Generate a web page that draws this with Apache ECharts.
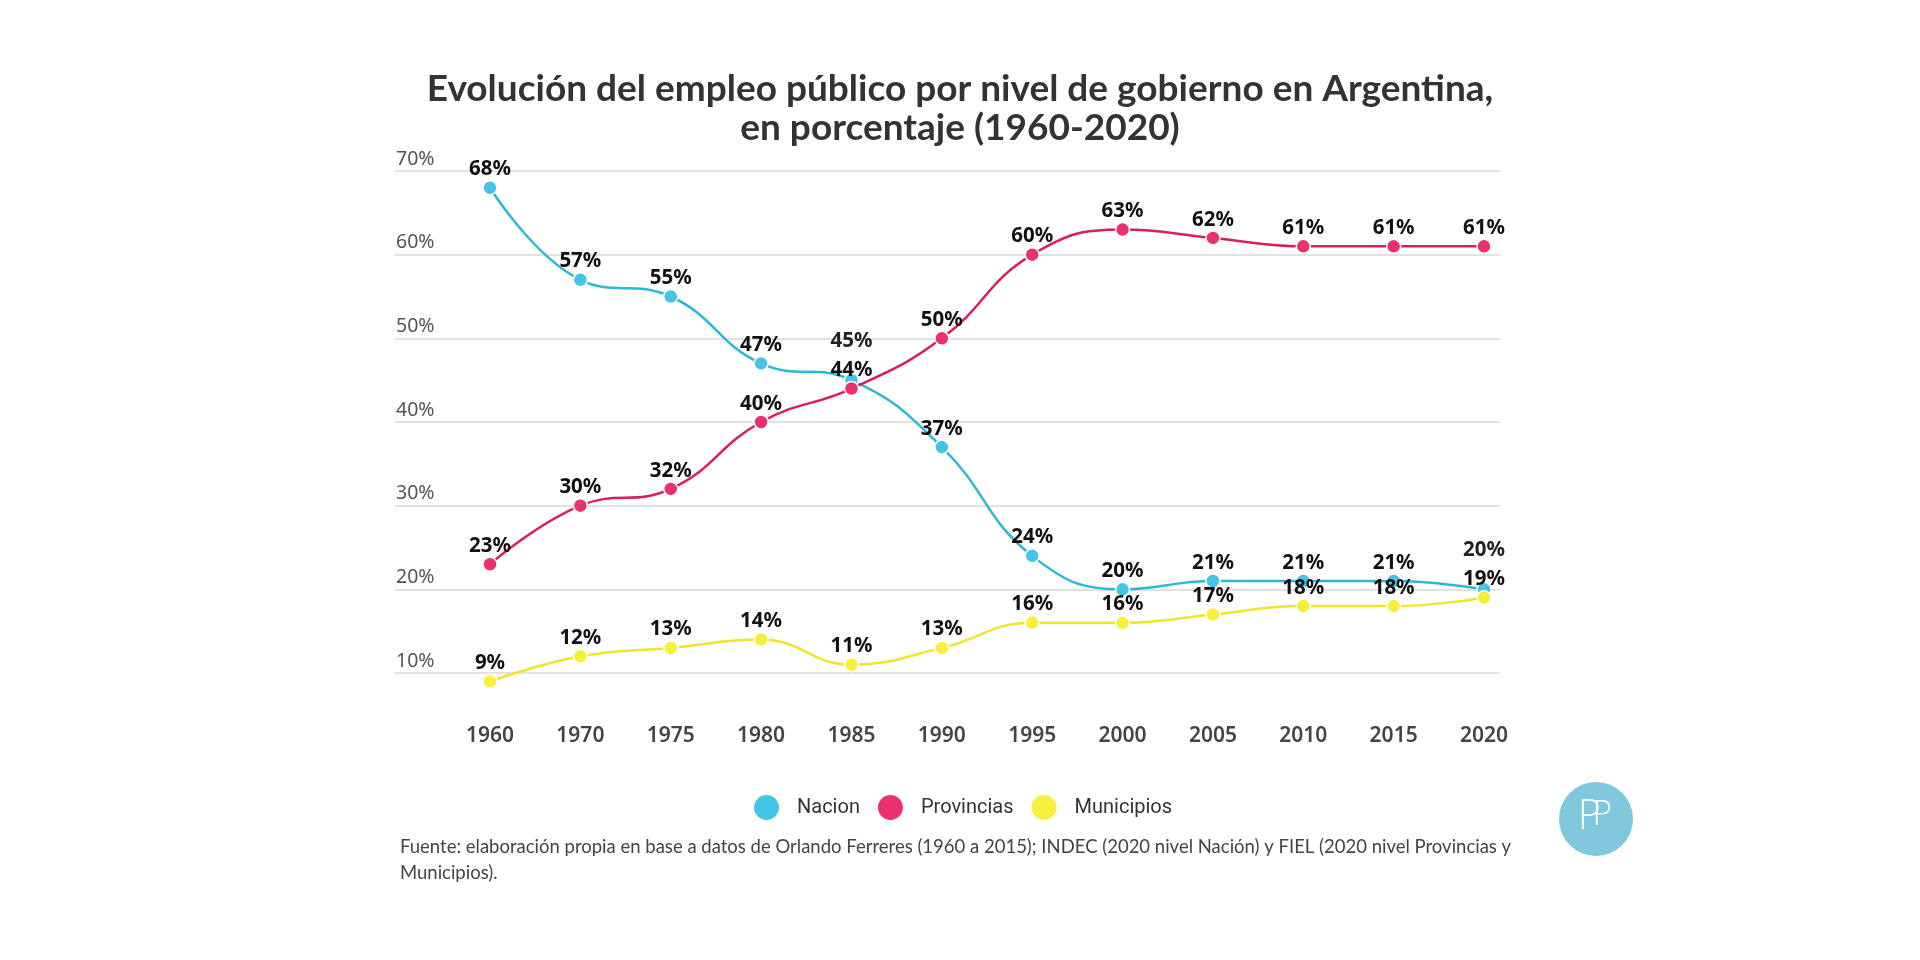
<!DOCTYPE html>
<html>
<head>
<meta charset="utf-8">
<script src="https://cdn.jsdelivr.net/npm/echarts@6/dist/echarts.min.js"></script>
<style>
html,body{margin:0;padding:0;background:#fff;}
#c{width:1920px;height:960px;}
</style>
</head>
<body>
<div id="c"></div>
<script>
const years = ['1960','1970','1975','1980','1985','1990','1995','2000','2005','2010','2015','2020'];
const nacion = [68, 57, 55, 47, 45, 37, 24, 20, 21, 21, 21, 20];
const provincias = [23, 30, 32, 40, 44, 50, 60, 63, 62, 61, 61, 61];
const municipios = [9, 12, 13, 14, 11, 13, 16, 16, 17, 18, 18, 19];
const yMin = 10, yMax = 70, yStep = 10;

const titleText = 'Evolución del empleo público por nivel de gobierno en Argentina,\nen porcentaje (1960-2020)';
const sourceText = 'Fuente: elaboración propia en base a datos de Orlando Ferreres (1960 a 2015); INDEC (2020 nivel Nación) y FIEL (2020 nivel Provincias y\nMunicipios).';

// years whose Nacion label is lifted to avoid overlapping another label
const liftedNacion = ['1985', '2020'];

const chart = echarts.init(document.getElementById('c'), null, {renderer: 'canvas'});

function mkSeries(name, data, dotColor, lineColor) {
  return {
    name: name,
    type: 'line',
    xAxisIndex: 1,
    yAxisIndex: 1,
    data: data,
    smooth: 0.45,
    clip: false,
    symbol: 'circle',
    symbolSize: 14,
    lineStyle: {color: lineColor, width: 2.5},
    itemStyle: {color: dotColor, borderColor: '#fff', borderWidth: 1.5},
    label: {
      show: true,
      position: 'top',
      distance: 0,
      formatter: '{c}%',
      color: '#111',
      fontFamily: 'Noto Sans',
      fontWeight: 'bold',
      fontSize: 20.5
    },
    emphasis: {disabled: true}
  };
}

const nacionData = nacion.map((v, i) =>
  liftedNacion.includes(years[i]) ? {value: v, label: {offset: [0, -21], color: '#222'}} : v);

const option = {
  backgroundColor: '#fff',
  animation: false,
  title: {
    text: titleText,
    left: 'center',
    top: 65,
    textStyle: {
      fontFamily: 'Lato',
      fontWeight: 'bold',
      fontSize: 37,
      lineHeight: 39,
      color: '#333'
    }
  },
  legend: {
    left: 749,
    top: 790,
    icon: 'circle',
    itemWidth: 25,
    itemHeight: 25,
    itemGap: 18,
    itemStyle: {borderWidth: 0},
    textStyle: {fontFamily: 'Roboto', fontSize: 20, color: '#333', padding: [0, 0, 0, 13]},
    data: ['Nacion', 'Provincias', 'Municipios']
  },
  grid: [
    {left: 395, right: 420, top: 171, bottom: 287},
    {left: 490, right: 436, top: 171, bottom: 287}
  ],
  xAxis: [
    {gridIndex: 0, type: 'category', data: years, boundaryGap: false, show: false},
    {
      gridIndex: 1, type: 'category', data: years, boundaryGap: false,
      axisLine: {show: false}, axisTick: {show: false}, splitLine: {show: false},
      axisLabel: {margin: 53, fontFamily: 'Noto Sans', fontWeight: 600, fontSize: 21, color: '#444'}
    }
  ],
  yAxis: [
    {
      gridIndex: 0, type: 'value', min: yMin, max: yMax, interval: yStep,
      axisLine: {show: false}, axisTick: {show: false},
      axisLabel: {
        inside: true, margin: 1, formatter: '{value}%', verticalAlign: 'bottom',
        padding: [0, 0, 2, 0],
        fontFamily: 'Noto Sans', fontSize: 19.5, color: '#555'
      },
      splitLine: {lineStyle: {color: '#d9d9d9', width: 1.5}}
    },
    {gridIndex: 1, type: 'value', min: yMin, max: yMax, interval: yStep, show: false, splitLine: {show: false}}
  ],
  series: [
    mkSeries('Nacion', nacionData, '#45c4e8', '#2db9d6'),
    mkSeries('Provincias', provincias, '#e8316d', '#d81f58'),
    mkSeries('Municipios', municipios, '#f6ef3c', '#efe52c')
  ],
  graphic: [
    {
      type: 'text', left: 400, top: 834,
      style: {text: sourceText, fontFamily: 'Lato', fontSize: 18.5, lineHeight: 26, fill: '#444'}
    },
    {
      type: 'circle', shape: {cx: 1596, cy: 819, r: 37},
      style: {fill: '#80c8dc'}
    },
    {
      type: 'text', x: 1589, y: 819,
      style: {text: 'P', fontFamily: 'DejaVu Sans', fontWeight: 200, fontSize: 40, fill: '#fff', align: 'center', verticalAlign: 'middle'}
    },
    {
      type: 'text', x: 1602, y: 816,
      style: {text: 'P', fontFamily: 'DejaVu Sans', fontWeight: 200, fontSize: 34, fill: '#fff', align: 'center', verticalAlign: 'middle'}
    }
  ]
};
chart.setOption(option);
</script>
</body>
</html>
